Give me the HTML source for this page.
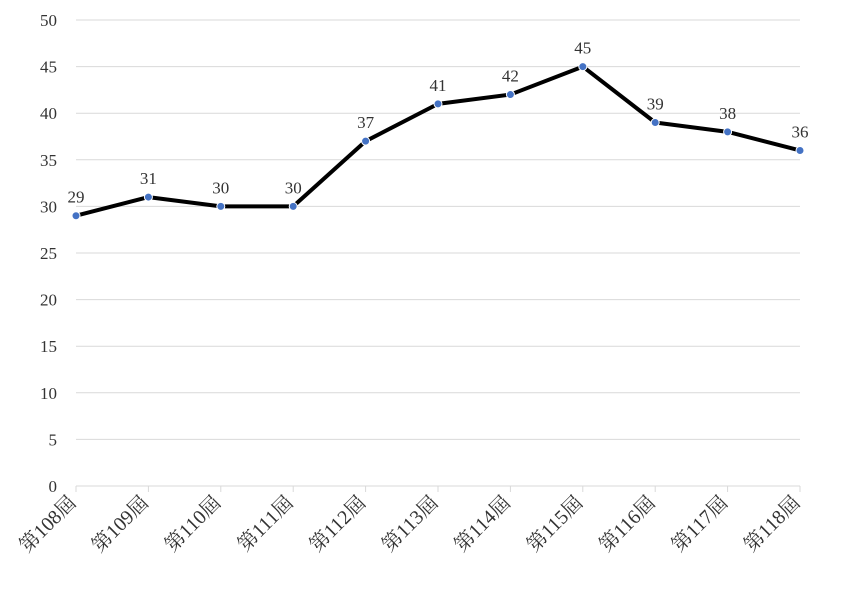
<!DOCTYPE html>
<html><head><meta charset="utf-8"><style>
html,body{margin:0;padding:0;background:#fff;}
svg text{font-family:"Liberation Serif","Noto Serif CJK SC",serif;fill:#333;}
</style></head><body>
<svg width="845" height="584" viewBox="0 0 845 584">
<g id="grid"></g>
<g id="yax"></g>
<g id="xax"></g>
<g id="series"></g>
</svg>
<script>
const categories=["第108屆","第109屆","第110屆","第111屆","第112屆","第113屆","第114屆","第115屆","第116屆","第117屆","第118屆"];
const values=[29,31,30,30,37,41,42,45,39,38,36];
const yTicks=[0,5,10,15,20,25,30,35,40,45,50];
const NS="http://www.w3.org/2000/svg";
const x0=76,x1=800,yBase=486,yTop=20,yMax=50;
function xs(i){return x0+i*(x1-x0)/(categories.length-1);}
function ys(v){return yBase-v*(yBase-yTop)/yMax;}
function mk(t,a,p){const e=document.createElementNS(NS,t);for(const k in a)e.setAttribute(k,a[k]);p.appendChild(e);return e;}
const grid=document.getElementById('grid'),yax=document.getElementById('yax'),xax=document.getElementById('xax'),ser=document.getElementById('series');
yTicks.forEach(v=>{
 if(v>0){const l=mk('line',{x1:x0,x2:x1,y1:ys(v),y2:ys(v),stroke:'#d9d9d9','stroke-width':1},grid);
 
 }
 const t=mk('text',{x:57,y:ys(v)+6,'text-anchor':'end','font-size':17},yax);
 t.textContent=v;
 
 
});
const base=mk('line',{x1:x0,x2:x1,y1:yBase,y2:yBase,stroke:'#d9d9d9','stroke-width':1},xax);


categories.forEach((c,i)=>{
 const tk=mk('line',{x1:xs(i),x2:xs(i),y1:yBase,y2:yBase+6,stroke:'#d9d9d9'},xax);
 
 
 const lx=xs(i)+1,ly=yBase+18;
 const t=mk('text',{x:lx,y:ly,'text-anchor':'end','font-size':20,transform:'rotate(-45 '+lx+' '+ly+')'},xax);
 t.textContent=c;
 
 
});
const pl=mk('polyline',{points:values.map((v,i)=>xs(i)+','+ys(v)).join(' '),fill:'none',stroke:'#000','stroke-width':4,'stroke-linejoin':'round'},ser);


values.forEach((v,i)=>{
 const c=mk('circle',{cx:xs(i),cy:ys(v),r:4,fill:'#4472c4',stroke:'#fff','stroke-width':1},ser);
 
 
 const t=mk('text',{x:xs(i),y:ys(v)-13,'text-anchor':'middle','font-size':17},ser);
 t.textContent=v;
 
 
});
</script>
</body></html>
